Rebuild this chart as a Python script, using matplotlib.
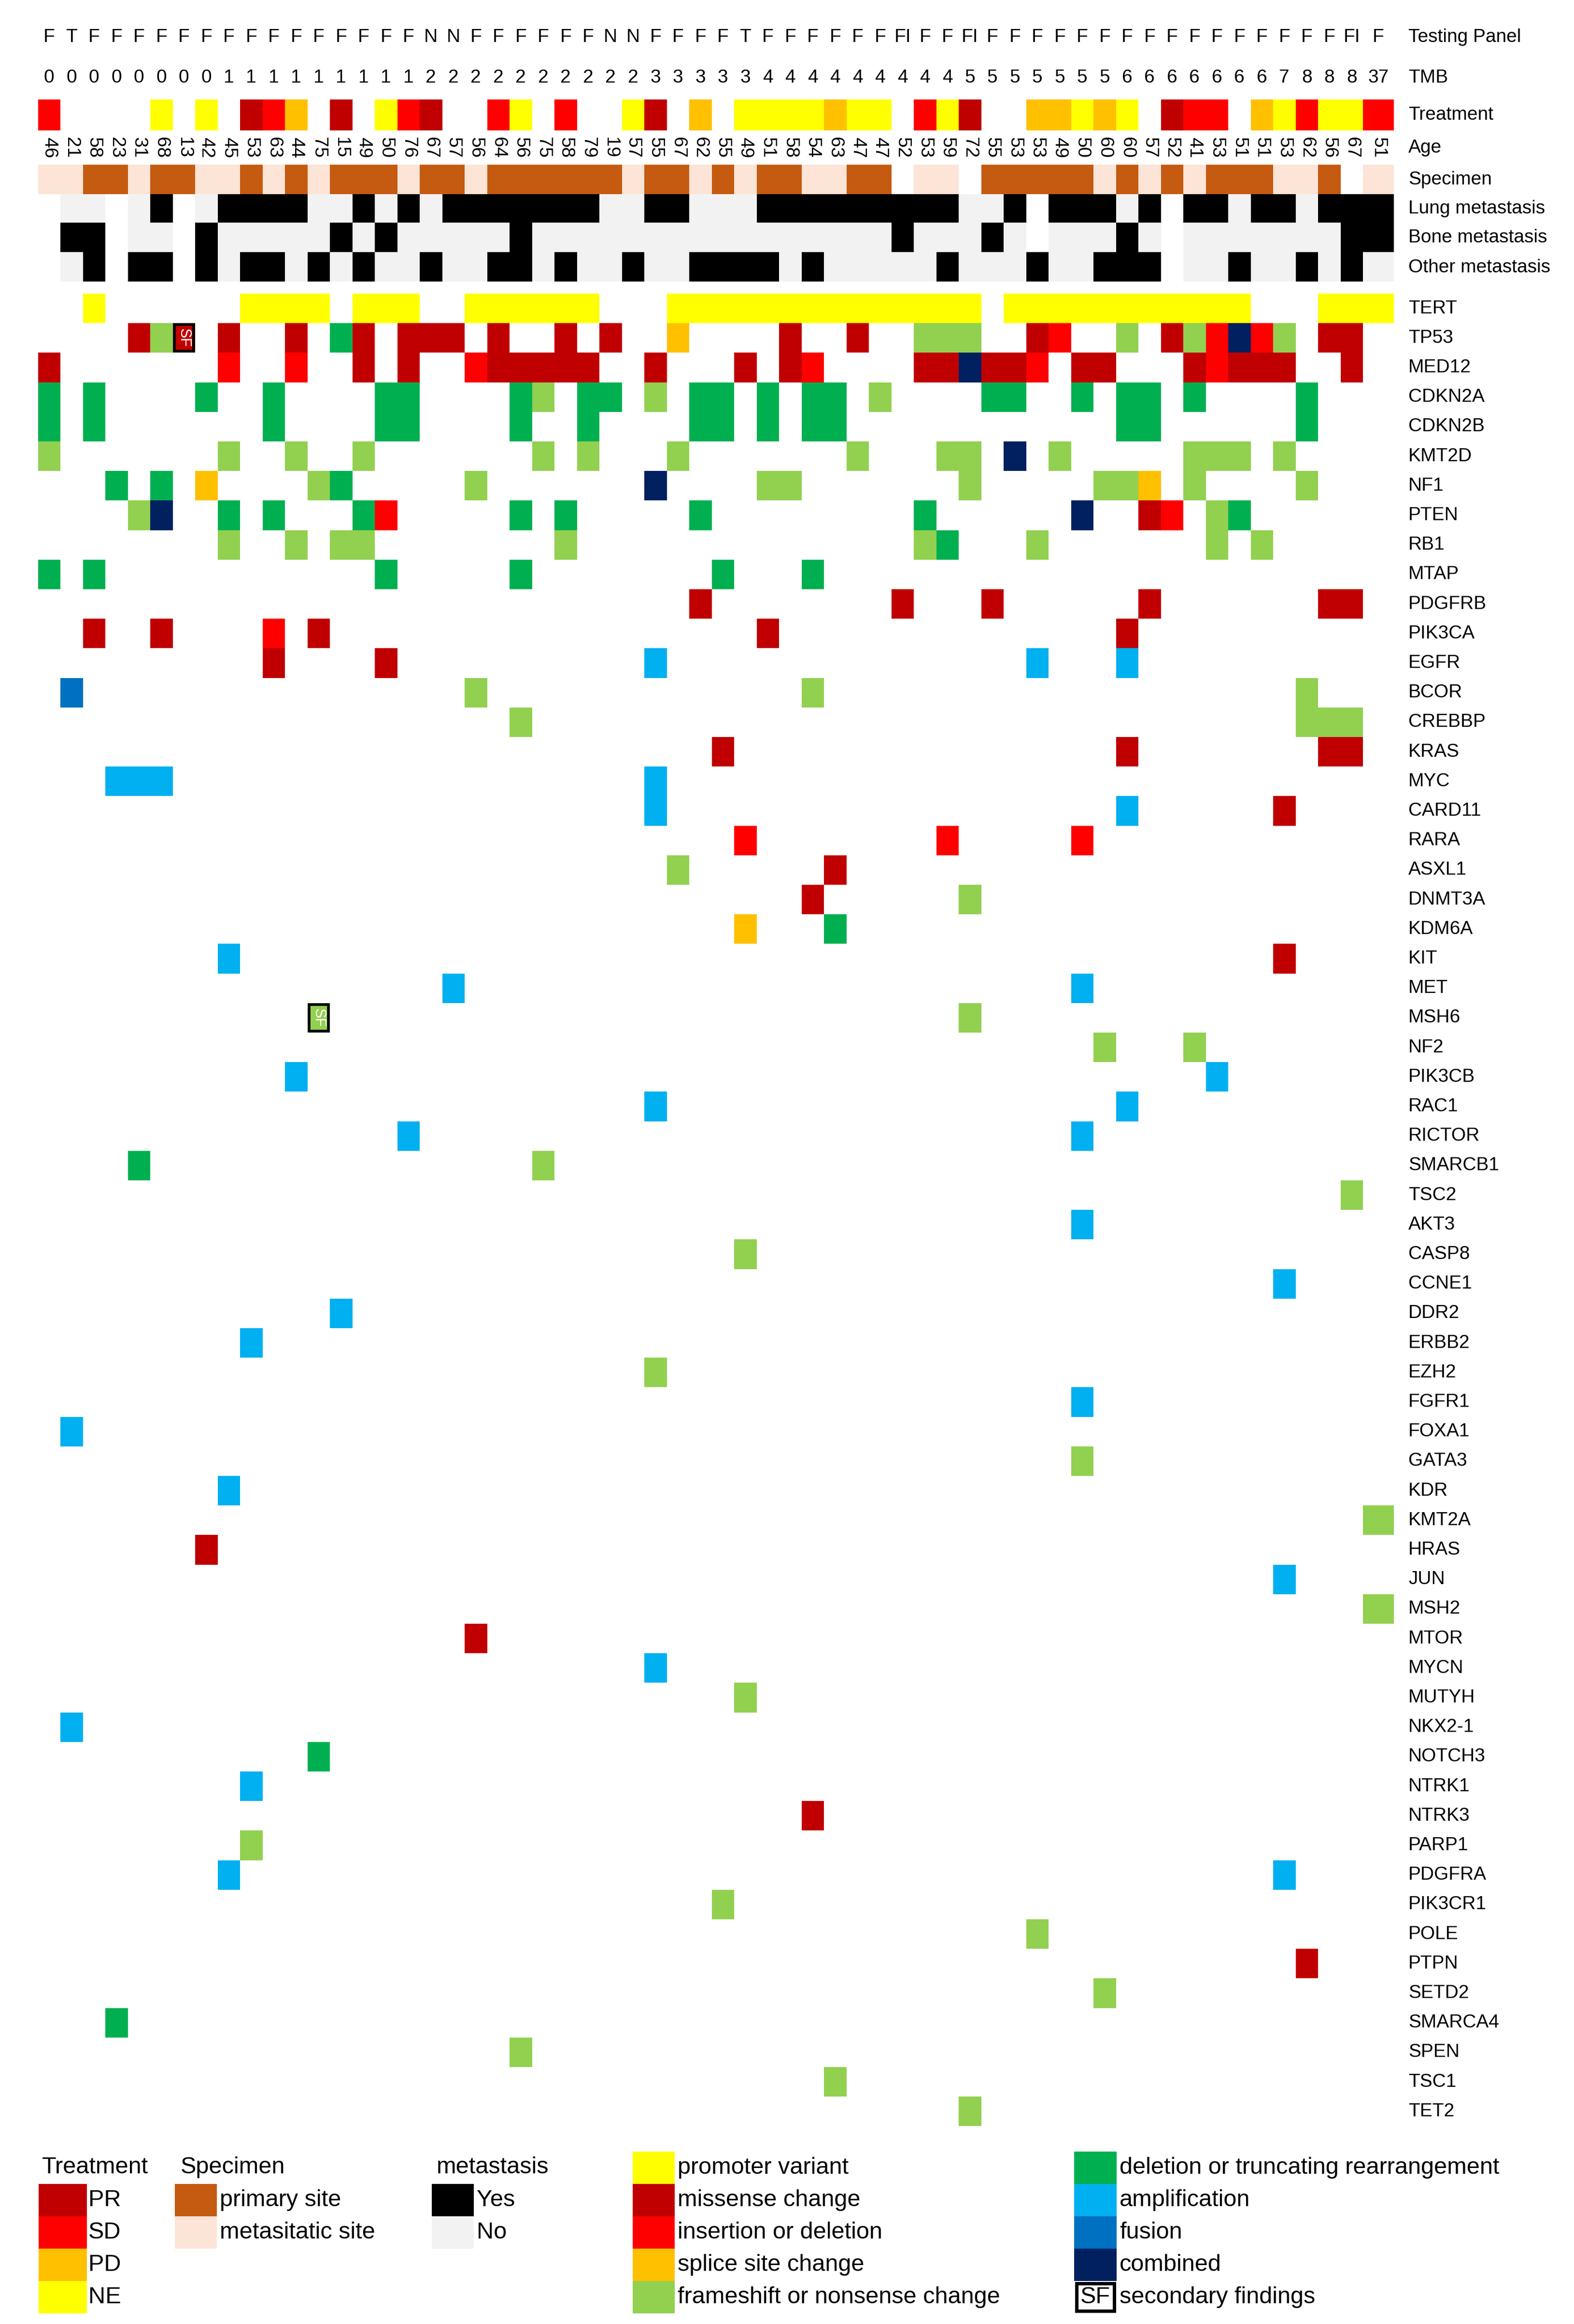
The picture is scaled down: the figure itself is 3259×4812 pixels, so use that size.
import matplotlib
matplotlib.use("Agg")
import matplotlib.pyplot as plt
from matplotlib.patches import Rectangle

plt.rcParams['font.family'] = ['Liberation Sans', 'DejaVu Sans']

# ---- data (one entry per patient column) ----
panel = (['F', 'T'] + ['F'] * 15 + ['N', 'N'] + ['F'] * 6 + ['N', 'N'] + ['F'] * 4 + ['T']
         + ['F'] * 6 + ['FI', 'F', 'F', 'FI'] + ['F'] * 16 + ['FI', 'F'])
tmb = [0] * 8 + [1] * 9 + [2] * 10 + [3] * 5 + [4] * 9 + [5] * 7 + [6] * 7 + [7] + [8] * 3 + [37]
treatment = "S....N.N.RSD.R.NSR..SN.S..NR.D.NNNNDNN.SNR..DDNDN.RSS.DNSNNS"
ages = [46, 21, 58, 23, 31, 68, 13, 42, 45, 53, 63, 44, 75, 15, 49, 50, 76, 67, 57, 56,
        64, 56, 75, 58, 79, 19, 57, 55, 67, 62, 55, 49, 51, 58, 54, 63, 47, 47, 52, 53,
        59, 72, 55, 53, 53, 49, 50, 60, 60, 57, 52, 41, 53, 51, 51, 53, 62, 56, 67, 51]
specimen = "MMPPMPPMMPMPMPPPMPPMPPPPPPMPPMPMPPMMPP.MM.PPPPPMPMPMPPPMMP.M"
lung = ".NN.NY.NYYYYNNYNYNYYYYYYYNNYYNNNYYYYYYYYYNNY.YYYNY.YYNYYNYYY"
bone = ".YY.NN.YNNNNNYNYNNNNNYNNNNNNNNNNNNNNNNYNNNYN.NNNYN.NNNNNNNYY"
other = ".NY.YY.YNYYNYNYNNYNNYYNYNNYNNYYYYNYNNNNNYNNNYNNYYY.NNYNNYNYN"

genes = ['TERT', 'TP53', 'MED12', 'CDKN2A', 'CDKN2B', 'KMT2D', 'NF1', 'PTEN', 'RB1', 'MTAP',
         'PDGFRB', 'PIK3CA', 'EGFR', 'BCOR', 'CREBBP', 'KRAS', 'MYC', 'CARD11', 'RARA', 'ASXL1',
         'DNMT3A', 'KDM6A', 'KIT', 'MET', 'MSH6', 'NF2', 'PIK3CB', 'RAC1', 'RICTOR', 'SMARCB1',
         'TSC2', 'AKT3', 'CASP8', 'CCNE1', 'DDR2', 'ERBB2', 'EZH2', 'FGFR1', 'FOXA1', 'GATA3',
         'KDR', 'KMT2A', 'HRAS', 'JUN', 'MSH2', 'MTOR', 'MYCN', 'MUTYH', 'NKX2-1', 'NOTCH3',
         'NTRK1', 'NTRK3', 'PARP1', 'PDGFRA', 'PIK3CR1', 'POLE', 'PTPN', 'SETD2', 'SMARCA4',
         'SPEN', 'TSC1', 'TET2']

# P promoter, M missense, I indel, S splice, F frameshift, D deletion,
# A amplification, U fusion, C combined ; entries are (code, first col, last col)
alterations = {
    'TERT': [('P', 2, 2), ('P', 9, 12), ('P', 14, 16), ('P', 19, 24), ('P', 28, 41), ('P', 43, 53), ('P', 57, 59)],
    'TP53': [('M', 4, 4), ('F', 5, 5), ('M', 6, 6), ('M', 8, 8), ('M', 11, 11), ('D', 13, 13), ('M', 14, 14),
             ('M', 16, 18), ('M', 20, 20), ('M', 23, 23), ('M', 25, 25), ('S', 28, 28), ('M', 33, 33),
             ('M', 36, 36), ('F', 39, 41), ('M', 44, 44), ('I', 45, 45), ('F', 48, 48), ('M', 50, 50),
             ('F', 51, 51), ('I', 52, 52), ('C', 53, 53), ('I', 54, 54), ('F', 55, 55), ('M', 57, 58)],
    'MED12': [('M', 0, 0), ('I', 8, 8), ('I', 11, 11), ('M', 14, 14), ('M', 16, 16), ('I', 19, 19),
              ('M', 20, 24), ('M', 27, 27), ('M', 31, 31), ('M', 33, 33), ('I', 34, 34), ('M', 39, 40),
              ('C', 41, 41), ('M', 42, 43), ('I', 44, 44), ('M', 46, 47), ('M', 51, 51), ('I', 52, 52),
              ('M', 53, 55), ('M', 58, 58)],
    'CDKN2A': [('D', 0, 0), ('D', 2, 2), ('D', 7, 7), ('D', 10, 10), ('D', 15, 16), ('D', 21, 21),
               ('F', 22, 22), ('D', 24, 25), ('F', 27, 27), ('D', 29, 30), ('D', 32, 32), ('D', 34, 35),
               ('F', 37, 37), ('D', 42, 43), ('D', 46, 46), ('D', 48, 49), ('D', 51, 51), ('D', 56, 56)],
    'CDKN2B': [('D', 0, 0), ('D', 2, 2), ('D', 10, 10), ('D', 15, 16), ('D', 21, 21), ('D', 24, 24),
               ('D', 29, 30), ('D', 32, 32), ('D', 34, 35), ('D', 48, 49), ('D', 56, 56)],
    'KMT2D': [('F', 0, 0), ('F', 8, 8), ('F', 11, 11), ('F', 14, 14), ('F', 22, 22), ('F', 24, 24),
              ('F', 28, 28), ('F', 36, 36), ('F', 40, 41), ('C', 43, 43), ('F', 45, 45), ('F', 51, 53),
              ('F', 55, 55)],
    'NF1': [('D', 3, 3), ('D', 5, 5), ('S', 7, 7), ('F', 12, 12), ('D', 13, 13), ('F', 19, 19),
            ('C', 27, 27), ('F', 32, 33), ('F', 41, 41), ('F', 47, 48), ('S', 49, 49), ('F', 51, 51),
            ('F', 56, 56)],
    'PTEN': [('F', 4, 4), ('C', 5, 5), ('D', 8, 8), ('D', 10, 10), ('D', 14, 14), ('I', 15, 15),
             ('D', 21, 21), ('D', 23, 23), ('D', 29, 29), ('D', 39, 39), ('C', 46, 46), ('M', 49, 49),
             ('I', 50, 50), ('F', 52, 52), ('D', 53, 53)],
    'RB1': [('F', 8, 8), ('F', 11, 11), ('F', 13, 14), ('F', 23, 23), ('F', 39, 39), ('D', 40, 40),
            ('F', 44, 44), ('F', 52, 52), ('F', 54, 54)],
    'MTAP': [('D', 0, 0), ('D', 2, 2), ('D', 15, 15), ('D', 21, 21), ('D', 30, 30), ('D', 34, 34)],
    'PDGFRB': [('M', 29, 29), ('M', 38, 38), ('M', 42, 42), ('M', 49, 49), ('M', 57, 58)],
    'PIK3CA': [('M', 2, 2), ('M', 5, 5), ('I', 10, 10), ('M', 12, 12), ('M', 32, 32), ('M', 48, 48)],
    'EGFR': [('M', 10, 10), ('M', 15, 15), ('A', 27, 27), ('A', 44, 44), ('A', 48, 48)],
    'BCOR': [('U', 1, 1), ('F', 19, 19), ('F', 34, 34), ('F', 56, 56)],
    'CREBBP': [('F', 21, 21), ('F', 56, 58)],
    'KRAS': [('M', 30, 30), ('M', 48, 48), ('M', 57, 58)],
    'MYC': [('A', 3, 5), ('A', 27, 27)],
    'CARD11': [('A', 27, 27), ('A', 48, 48), ('M', 55, 55)],
    'RARA': [('I', 31, 31), ('I', 40, 40), ('I', 46, 46)],
    'ASXL1': [('F', 28, 28), ('M', 35, 35)],
    'DNMT3A': [('M', 34, 34), ('F', 41, 41)],
    'KDM6A': [('S', 31, 31), ('D', 35, 35)],
    'KIT': [('A', 8, 8), ('M', 55, 55)],
    'MET': [('A', 18, 18), ('A', 46, 46)],
    'MSH6': [('F', 12, 12), ('F', 41, 41)],
    'NF2': [('F', 47, 47), ('F', 51, 51)],
    'PIK3CB': [('A', 11, 11), ('A', 52, 52)],
    'RAC1': [('A', 27, 27), ('A', 48, 48)],
    'RICTOR': [('A', 16, 16), ('A', 46, 46)],
    'SMARCB1': [('D', 4, 4), ('F', 22, 22)],
    'TSC2': [('F', 58, 58)],
    'AKT3': [('A', 46, 46)],
    'CASP8': [('F', 31, 31)],
    'CCNE1': [('A', 55, 55)],
    'DDR2': [('A', 13, 13)],
    'ERBB2': [('A', 9, 9)],
    'EZH2': [('F', 27, 27)],
    'FGFR1': [('A', 46, 46)],
    'FOXA1': [('A', 1, 1)],
    'GATA3': [('F', 46, 46)],
    'KDR': [('A', 8, 8)],
    'KMT2A': [('F', 59, 59)],
    'HRAS': [('M', 7, 7)],
    'JUN': [('A', 55, 55)],
    'MSH2': [('F', 59, 59)],
    'MTOR': [('M', 19, 19)],
    'MYCN': [('A', 27, 27)],
    'MUTYH': [('F', 31, 31)],
    'NKX2-1': [('A', 1, 1)],
    'NOTCH3': [('D', 12, 12)],
    'NTRK1': [('A', 9, 9)],
    'NTRK3': [('M', 34, 34)],
    'PARP1': [('F', 9, 9)],
    'PDGFRA': [('A', 8, 8), ('A', 55, 55)],
    'PIK3CR1': [('F', 30, 30)],
    'POLE': [('F', 44, 44)],
    'PTPN': [('M', 56, 56)],
    'SETD2': [('F', 47, 47)],
    'SMARCA4': [('D', 3, 3)],
    'SPEN': [('F', 21, 21)],
    'TSC1': [('F', 35, 35)],
    'TET2': [('F', 41, 41)],
}
secondary = [('TP53', 6), ('MSH6', 12)]

# ---- colours ----
mut_colors = {'P': '#FFFF00', 'M': '#C00000', 'I': '#FF0000', 'S': '#FFC000', 'F': '#92D050',
              'D': '#00B050', 'A': '#00B0F0', 'U': '#0070C0', 'C': '#002060'}
treat_colors = {'R': '#C00000', 'S': '#FF0000', 'D': '#FFC000', 'N': '#FFFF00'}
spec_colors = {'P': '#C55A11', 'M': '#FCE4D6'}
meta_colors = {'Y': '#000000', 'N': '#F2F2F2'}

assert len(panel) == len(tmb) == len(treatment) == len(ages) == len(specimen) == 60
assert len(lung) == len(bone) == len(other) == 60

# ---- layout (pixels) ----
W, H = 3259, 4812
x0, cw = 78.5, 46.5
ncol = 60
edges = [x0 + cw * i for i in range(ncol)] + [2886]
centers = [(edges[i] + edges[i + 1]) / 2 for i in range(ncol)]
gene_top, gh = 608, 61.2
label_x = 2916
fs = 28

fig = plt.figure(figsize=(W / 100, H / 100), dpi=100)
ax = fig.add_axes([0, 0, 1, 1])
ax.set_xlim(0, W)
ax.set_ylim(H, 0)
ax.axis('off')


def cell(i, y, h, color):
    ax.add_patch(Rectangle((edges[i], y), edges[i + 1] - edges[i], h, color=color, lw=0))


# header text rows
for i in range(ncol):
    ax.text(centers[i], 77, panel[i], ha='center', va='center', fontsize=fs)
    ax.text(centers[i], 161, str(tmb[i]), ha='center', va='center', fontsize=fs)
    ax.text(centers[i], 306, str(ages[i]), ha='center', va='center', fontsize=fs, rotation=270)
    if treatment[i] in treat_colors:
        cell(i, 206, 64, treat_colors[treatment[i]])
    if specimen[i] in spec_colors:
        cell(i, 341, 61, spec_colors[specimen[i]])
    for row, y in ((lung, 402), (bone, 461), (other, 522)):
        if row[i] in meta_colors:
            cell(i, y, 61 if y != 461 else 61, meta_colors[row[i]])

for txt, y in (('Testing Panel', 77), ('TMB', 161), ('Treatment', 238), ('Age', 306),
               ('Specimen', 372), ('Lung metastasis', 432), ('Bone metastasis', 492),
               ('Other metastasis', 554)):
    ax.text(label_x, y, txt, va='center', fontsize=fs)

# gene rows
for g, gene in enumerate(genes):
    y = gene_top + g * gh
    ax.text(label_x, y + gh / 2, gene, va='center', fontsize=fs)
    for code, a, b in alterations.get(gene, []):
        for i in range(a, b + 1):
            cell(i, y, gh, mut_colors[code])

for gene, i in secondary:
    y = gene_top + genes.index(gene) * gh
    ax.add_patch(Rectangle((edges[i] + 3, y + 3), cw - 6, gh - 6, fill=False, ec='black', lw=4))
    ax.text(centers[i], y + gh / 2, 'SF', color='white', ha='center', va='center',
            fontsize=22, rotation=270)

# ---- legend ----
lfs = 35
bh = 67
ty = 4488
ax.text(87, ty, 'Treatment', va='center', fontsize=lfs)
ax.text(374, ty, 'Specimen', va='center', fontsize=lfs)
ax.text(904, ty, 'metastasis', va='center', fontsize=lfs)
for k, (lab, c) in enumerate(zip(['PR', 'SD', 'PD', 'NE'], 'RSDN')):
    yy = 4522 + k * bh
    ax.add_patch(Rectangle((80, yy), 100, bh, color=treat_colors[c], lw=0))
    ax.text(183, yy + bh / 2, lab, va='center', fontsize=lfs)
for k, (lab, c) in enumerate(zip(['primary site', 'metasitatic site'], 'PM')):
    yy = 4522 + k * bh
    ax.add_patch(Rectangle((362, yy), 87, bh, color=spec_colors[c], lw=0))
    ax.text(455, yy + bh / 2, lab, va='center', fontsize=lfs)
for k, (lab, c) in enumerate(zip(['Yes', 'No'], 'YN')):
    yy = 4522 + k * bh
    ax.add_patch(Rectangle((894, yy), 87, bh, color=meta_colors[c], lw=0))
    ax.text(987, yy + bh / 2, lab, va='center', fontsize=lfs)

col1 = [('P', 'promoter variant'), ('M', 'missense change'), ('I', 'insertion or deletion'),
        ('S', 'splice site change'), ('F', 'frameshift or nonsense change')]
col2 = [('D', 'deletion or truncating rearrangement'), ('A', 'amplification'), ('U', 'fusion'),
        ('C', 'combined')]
for k, (c, lab) in enumerate(col1):
    yy = 4455 + k * bh
    ax.add_patch(Rectangle((1310, yy), 87, bh, color=mut_colors[c], lw=0))
    ax.text(1403, yy + bh / 2, lab, va='center', fontsize=lfs)
for k, (c, lab) in enumerate(col2):
    yy = 4455 + k * bh
    ax.add_patch(Rectangle((2224, yy), 88, bh, color=mut_colors[c], lw=0))
    ax.text(2318, yy + bh / 2, lab, va='center', fontsize=lfs)
yy = 4455 + 4 * bh
ax.add_patch(Rectangle((2229, yy + 5), 78, bh - 10, fill=False, ec='black', lw=5))
ax.text(2268, yy + bh / 2, 'SF', ha='center', va='center', fontsize=lfs)
ax.text(2318, yy + bh / 2, 'secondary findings', va='center', fontsize=lfs)

fig.savefig('out.png', dpi=100, facecolor='white')
